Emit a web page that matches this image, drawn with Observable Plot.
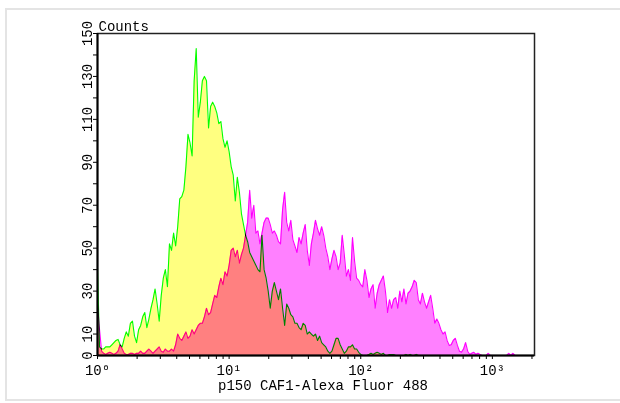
<!DOCTYPE html>
<html><head><meta charset="utf-8">
<script src="https://cdn.jsdelivr.net/npm/d3@7"></script>
<script src="https://cdn.jsdelivr.net/npm/@observablehq/plot@0.6"></script>
<style>
html,body{margin:0;padding:0;background:#fff;overflow:hidden;width:620px;height:403px}
#border{position:absolute;left:5px;top:8px;width:640px;height:393px;border:2px solid #e4e4e4;box-sizing:border-box}
#chart{position:absolute;left:0;top:0}
#chart svg g[aria-label="area"], #chart svg g[aria-label="line"]{mix-blend-mode:multiply}
</style></head><body><div id="border"></div><div id="chart"></div>
<script>
// histogram channels: 64 channels per decade, channel i sits at 10^(i/64)
const channelsPerDecade = 64;

// control histogram (yellow fill, green outline), counts per channel
const yellowCounts = [41,4,3,3,4,4,4,5,6,7,7.5,5,4,8,11,9,15,16,9,6,
  12,14,18,20,13,17,22,26,31,24,16,28,36,40,32,52,49,57,51,60,
  73,74,77,88,103,99,93,128,143,111,118,128,130,128,106,116,118,116,113,108,
  109,101,97,100,95,88,84,72,83,76,66,61,56,53,48,46,44,42,40,39,
  56,40,36,30,22,30,34,30,26,31,22,14,24,22,19,18,15,15,13,12,
  15,14,10,11,10,9,10,7,9,6,5,4,2,1,2,5,8,8,5,3,
  1,2,4,4,5,3,3,1.5,0.5,0,0,0,0.5,1,0.5,1,1.5,1,0.5,1,
  0,0,0.5,0.5,0.5,0,0,0,0,0,0.5,0,0.5,0,0,0.5,0];

// p150 CAF1 stained histogram (magenta fill, magenta outline), counts per channel
const magentaCounts = [24,12,2,1,0.5,1,1.5,1,0.5,1,2,5,3,1,0.5,0.5,1,1,0.5,1,
  1,2,1,1,2,3,2,1,2,3,4,2,1.5,3,2,2,3,2,5,10,
  8,7,9,11,8,9,12,10,12,14,15,15,18,22,19,20,24,28,27,32,
  36,33,39,37,42,49,50,46,49,43,47,50,56,62,77,64,70,57,58,52,
  57,62,64,64,61,57,58,56,53,52,68,76,62,58,63,54,51,48,55,52,
  57,61,49,42,52,57,63,59,56,60,56,50,46,40,45,49,46,40,43,56,
  47,37,40,35,55,44,36,35,33,32,40,35,27,31,33,22,29,33,35,37,
  30,20,26,22,26,27,22,30,25,31,24,29,30,32,35,34,26,24,29,25,
  22,25,28,22,15,17,15,12,10,11,7,4.7,5,7,8,4.7,2,1.5,3,6,
  2,0.5,1,1.5,0.5,1,0.5,0,0,0,1,0,0,0,0,0,0,0,0,0,
  1,0,1,0];

const yTicks = [0,10,20,30,40,50,60,70,80,90,100,110,120,130,140,150];
const yLabelled = [0,10,30,50,70,90,110,130,150];
const xMajor = [1,10,100,1000];
const xMajorLabels = ["10⁰","10¹","10²","10³"];
const xMinorMultipliers = [2,3,4,5,6,7,8,9];
const xDomain = [1, 2090];
const yDomain = [0, 150];
const yTitle = "Counts";
const xTitle = "p150 CAF1-Alexa Fluor 488";

const toRows = arr => arr.map((c, i) => ({x: Math.pow(10, i / channelsPerDecade), y: c}));
const yellowRows = toRows(yellowCounts);
const magentaRows = toRows(magentaCounts);

const xTicks = [];
xMajor.forEach(d => { xTicks.push(d); xMinorMultipliers.forEach(m => { if (d * m <= xDomain[1]) xTicks.push(d * m); }); });
const xLabelMap = new Map(xMajor.map((d, i) => [d, xMajorLabels[i]]));

const blend = {mixBlendMode: "multiply"};

const chart = Plot.plot({
  width: 620, height: 403,
  marginLeft: 97, marginRight: 86, marginTop: 33, marginBottom: 48,
  style: {fontFamily: "'Liberation Mono', monospace", fontSize: "14px", background: "transparent", color: "black"},
  x: {type: "log", domain: xDomain},
  y: {domain: yDomain},
  marks: [
    Plot.areaY(magentaRows, {x: "x", y: "y", fill: "#ff80ff", ...blend}),
    Plot.areaY(yellowRows, {x: "x", y: "y", fill: "#ffff80", ...blend}),
    Plot.lineY(magentaRows, {x: "x", y: "y", stroke: "#ff00ff", strokeWidth: 1.1, ...blend}),
    Plot.lineY(yellowRows, {x: "x", y: "y", stroke: "#00ff00", strokeWidth: 1.1, ...blend}),
    Plot.frame({stroke: "#222", strokeWidth: 1.5}),
    Plot.ruleY([yDomain[0]], {stroke: "black", strokeWidth: 2}),
    Plot.ruleX([xDomain[0]], {stroke: "black", strokeWidth: 2}),
    Plot.axisY({ticks: yTicks, tickFormat: d => yLabelled.includes(d) ? String(d) : "", tickSize: 4, tickRotate: -90, tickPadding: 2, label: null, stroke: "black"}),
    Plot.axisX({ticks: xTicks, tickFormat: d => xLabelMap.get(d) ?? "", tickSize: 4, tickPadding: 6, label: null, stroke: "black"}),
    Plot.text([yTitle], {frameAnchor: "top-left", textAnchor: "start", lineAnchor: "middle", dx: 1, dy: -7}),
    Plot.text([xTitle], {frameAnchor: "bottom", textAnchor: "middle", lineAnchor: "middle", dx: 7, dy: 30})
  ]
});
document.getElementById("chart").appendChild(chart);
</script>
</body></html>
